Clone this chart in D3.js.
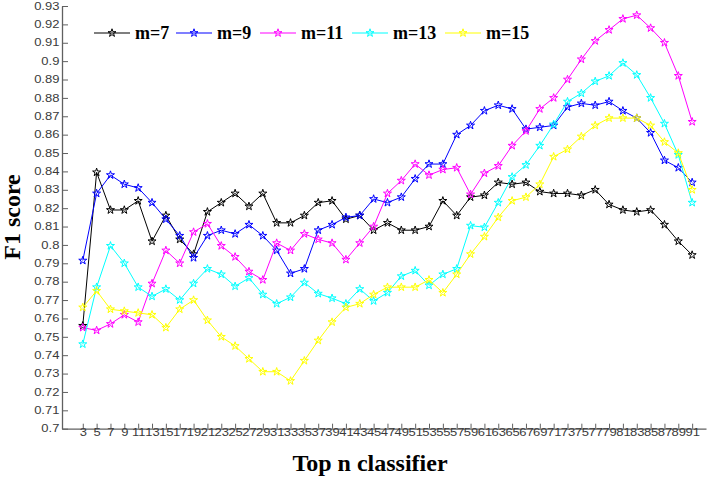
<!DOCTYPE html>
<html>
<head>
<meta charset="utf-8">
<script src="https://cdn.jsdelivr.net/npm/d3@7"></script>
<style>
  body { margin: 0; background: #fff; }
  svg { display: block; }
</style>
</head>
<body>
<script>
// top n classifier values (x categories)
var topN = [3, 5, 7, 9, 11, 13, 15, 17, 19, 21, 23, 25, 27, 29, 31, 33, 35, 37, 39, 41, 43,
            45, 47, 49, 51, 53, 55, 57, 59, 61, 63, 65, 67, 69, 71, 73, 75, 77, 79, 81, 83, 85, 87, 89, 91];

var yTicks = [0.7, 0.71, 0.72, 0.73, 0.74, 0.75, 0.76, 0.77, 0.78, 0.79, 0.8, 0.81,
              0.82, 0.83, 0.84, 0.85, 0.86, 0.87, 0.88, 0.89, 0.9, 0.91, 0.92, 0.93];

var seriesNames = ["m=7", "m=9", "m=11", "m=13", "m=15"];
var seriesColors = ["#000000", "#0000ff", "#ff00ff", "#00ffff", "#ffff00"];

var m7 = [0.756, 0.8395, 0.819, 0.819, 0.824, 0.802, 0.816, 0.803, 0.795, 0.818, 0.823,
          0.828, 0.821, 0.828, 0.812, 0.812, 0.816, 0.823, 0.824, 0.814, 0.816,
          0.808, 0.812, 0.808, 0.808, 0.810, 0.824, 0.816, 0.826, 0.827, 0.834,
          0.833, 0.834, 0.829, 0.828, 0.828, 0.827, 0.830, 0.822, 0.819, 0.818,
          0.819, 0.811, 0.802, 0.7945];
var m9 = [0.7915, 0.828, 0.838, 0.833, 0.831, 0.823, 0.814, 0.805, 0.793, 0.805, 0.808,
          0.806, 0.811, 0.805, 0.797, 0.7845, 0.787, 0.808, 0.811, 0.815, 0.816,
          0.825, 0.823, 0.826, 0.836, 0.844, 0.844, 0.860, 0.865, 0.873, 0.876,
          0.874, 0.863, 0.864, 0.865, 0.875, 0.877, 0.876, 0.878, 0.873, 0.869,
          0.861, 0.846, 0.842, 0.834];
var m11 = [0.755, 0.7535, 0.757, 0.762, 0.758, 0.779, 0.797, 0.790, 0.807, 0.8115, 0.7995,
           0.7935, 0.7855, 0.781, 0.801, 0.797, 0.806, 0.803, 0.801, 0.792, 0.801,
           0.810, 0.828, 0.835, 0.844, 0.838, 0.841, 0.842, 0.8275, 0.839, 0.843,
           0.854, 0.862, 0.874, 0.880, 0.890, 0.901, 0.911, 0.917, 0.923, 0.925,
           0.918, 0.910, 0.892, 0.867];
var m13 = [0.746, 0.777, 0.7995, 0.790, 0.777, 0.772, 0.776, 0.770, 0.779, 0.787, 0.784,
           0.7775, 0.782, 0.773, 0.768, 0.7715, 0.7795, 0.7735, 0.771, 0.768, 0.776,
           0.7695, 0.774, 0.783, 0.786, 0.778, 0.784, 0.787, 0.8105, 0.8096, 0.823,
           0.837, 0.8435, 0.854, 0.8656, 0.878, 0.8825, 0.889, 0.892, 0.899, 0.8925,
           0.880, 0.866, 0.849, 0.823];
var m15 = [0.766, 0.775, 0.765, 0.764, 0.763, 0.762, 0.755, 0.765, 0.770, 0.759, 0.750,
           0.745, 0.738, 0.731, 0.731, 0.726, 0.737, 0.748, 0.758, 0.766, 0.768,
           0.773, 0.777, 0.777, 0.777, 0.781, 0.774, 0.784, 0.795, 0.8045, 0.815,
           0.824, 0.826, 0.833, 0.848, 0.852, 0.859, 0.865, 0.869, 0.869, 0.869,
           0.865, 0.856, 0.850, 0.830];

var allSeries = [m7, m9, m11, m13, m15];

var width = 707, height = 478;

var svg = d3.select("body").append("svg")
            .attr("width", width)
            .attr("height", height);

var x = d3.scaleLinear().domain([0, 93]).range([62, 706]);
var y = d3.scaleLinear().domain([0.7, 0.93]).range([428.7, 6]);

// axes
var xAxis = d3.axisBottom(x)
              .tickValues(topN)
              .tickFormat(d3.format("d"))
              .tickSizeInner(-5)
              .tickSizeOuter(0)
              .tickPadding(0.6);
var yAxis = d3.axisLeft(y)
              .tickValues(yTicks)
              .tickFormat(function(d){ return String(+d.toFixed(2)); })
              .tickSizeInner(-6)
              .tickSizeOuter(0)
              .tickPadding(2);

var gx = svg.append("g")
            .attr("transform", "translate(0," + y(0.7) + ")")
            .call(xAxis);
var gy = svg.append("g")
            .attr("transform", "translate(" + x(0) + ",0)")
            .call(yAxis);

[gx, gy].forEach(function(g){
	g.select(".domain").attr("stroke", "#606060").attr("stroke-width", 1.3);
	g.selectAll(".tick line").attr("stroke", "#606060").attr("stroke-width", 1);
	g.selectAll(".tick text")
	 .attr("fill", "#3a3a3a")
	 .style("font-family", "Arial, 'Liberation Sans', sans-serif")
	 .style("font-size", "10px")
	 .attr("transform", "scale(1.3,1)");
});

// axis titles
svg.append("text")
   .attr("x", 370)
   .attr("y", 471)
   .attr("text-anchor", "middle")
   .style("font-family", "'Liberation Serif', 'Times New Roman', serif")
   .style("font-weight", "bold")
   .style("font-size", "24px")
   .text("Top n classifier");

svg.append("text")
   .attr("transform", "translate(20,217) rotate(-90)")
   .attr("text-anchor", "middle")
   .style("font-family", "'Liberation Serif', 'Times New Roman', serif")
   .style("font-weight", "bold")
   .style("font-size", "24px")
   .text("F1 score");

// lines and star markers
var line = d3.line()
             .x(function(d, i){ return x(topN[i]); })
             .y(function(d){ return y(d); });
var star = d3.symbol().type(d3.symbolStar).size(20);

allSeries.forEach(function(values, s){
	var g = svg.append("g");
	g.append("path")
	 .datum(values)
	 .attr("d", line)
	 .attr("fill", "none")
	 .attr("stroke", seriesColors[s])
	 .attr("stroke-width", 1);
	g.selectAll("path.marker")
	 .data(values)
	 .enter().append("path")
	 .attr("class", "marker")
	 .attr("d", star)
	 .attr("transform", function(d, i){ return "translate(" + x(topN[i]) + "," + y(d) + ")"; })
	 .attr("fill", "none")
	 .attr("stroke", seriesColors[s])
	 .attr("stroke-width", 1);
});

// legend
var legendX = [94, 176, 260, 352, 445];
var legend = svg.append("g");
seriesNames.forEach(function(name, s){
	var lg = legend.append("g").attr("transform", "translate(" + legendX[s] + ",33)");
	lg.append("line")
	  .attr("x1", 0).attr("x2", 36)
	  .attr("y1", 0).attr("y2", 0)
	  .attr("stroke", seriesColors[s])
	  .attr("stroke-width", 1.2);
	lg.append("path")
	  .attr("d", star)
	  .attr("transform", "translate(18,0)")
	  .attr("fill", "none")
	  .attr("stroke", seriesColors[s]);
	lg.append("text")
	  .attr("x", 41)
	  .attr("y", 6)
	  .style("font-family", "'Liberation Serif', 'Times New Roman', serif")
	  .style("font-weight", "bold")
	  .style("font-size", "18px")
	  .text(name);
});
</script>
</body>
</html>
